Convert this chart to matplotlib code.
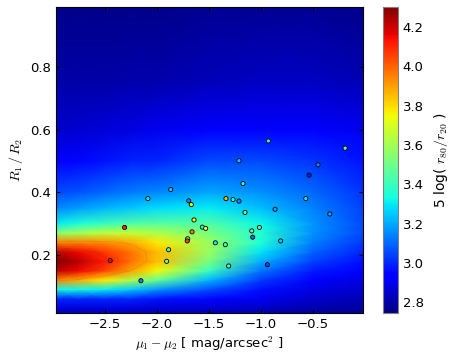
import numpy as np
import matplotlib
matplotlib.use("Agg")
import matplotlib.pyplot as plt

plt.rcParams["mathtext.fontset"] = "cm"
plt.rcParams["font.family"] = "DejaVu Sans"

# background model surface (rows = y nodes, cols = x nodes)
grid_x = [-2.97, -2.75, -2.5, -2.25, -2.0, -1.5, -1.0, -0.5, -0.02]
grid_y = [0.0, 0.03, 0.06, 0.09, 0.12, 0.15, 0.18, 0.21, 0.24, 0.27, 0.30,
          0.35, 0.40, 0.50, 0.60, 0.75, 1.0]
grid_z = [
    [2.78, 2.78, 2.78, 2.78, 2.78, 2.78, 2.78, 2.77, 2.76],
    [2.87, 2.87, 2.87, 2.87, 2.86, 2.86, 2.84, 2.81, 2.79],
    [3.00, 3.00, 3.00, 3.00, 2.97, 2.95, 2.90, 2.85, 2.82],
    [3.32, 3.32, 3.30, 3.25, 3.17, 3.06, 2.96, 2.88, 2.85],
    [3.95, 3.88, 3.78, 3.62, 3.48, 3.22, 3.03, 2.93, 2.88],
    [4.22, 4.15, 4.05, 3.90, 3.75, 3.40, 3.12, 2.98, 2.92],
    [4.30, 4.22, 4.12, 3.98, 3.85, 3.52, 3.21, 3.04, 2.96],
    [4.22, 4.15, 4.07, 3.97, 3.85, 3.58, 3.29, 3.09, 3.00],
    [3.95, 3.95, 3.93, 3.88, 3.78, 3.58, 3.35, 3.13, 3.03],
    [3.55, 3.60, 3.65, 3.66, 3.62, 3.52, 3.36, 3.16, 3.05],
    [3.30, 3.35, 3.40, 3.44, 3.46, 3.44, 3.32, 3.17, 3.05],
    [3.15, 3.18, 3.22, 3.25, 3.28, 3.30, 3.23, 3.14, 3.04],
    [3.05, 3.07, 3.10, 3.13, 3.15, 3.20, 3.16, 3.10, 3.02],
    [2.93, 2.95, 2.97, 2.99, 3.00, 3.05, 3.05, 3.02, 2.97],
    [2.85, 2.86, 2.87, 2.88, 2.90, 2.93, 2.94, 2.93, 2.90],
    [2.80, 2.80, 2.80, 2.81, 2.81, 2.83, 2.84, 2.84, 2.82],
    [2.76, 2.76, 2.76, 2.76, 2.76, 2.77, 2.77, 2.77, 2.76],
]

# galaxies
mu_diff = [-1.868, -2.087, -1.695, -1.670, -1.644, -2.311, -1.564, -1.532, -1.663,
           -1.705, -1.709, -1.439, -1.888, -1.907, -2.449, -2.154, -0.930, -0.192,
           -1.212, -0.452, -0.538, -1.173, -1.337, -1.269, -1.212, -0.570, -1.154,
           -0.865, -0.339, -1.343, -1.089, -1.016, -1.080, -0.811, -1.311, -0.939]
r_ratio = [0.409, 0.380, 0.373, 0.361, 0.312, 0.288, 0.289, 0.285, 0.274,
           0.252, 0.245, 0.239, 0.217, 0.180, 0.182, 0.118, 0.564, 0.541,
           0.501, 0.488, 0.455, 0.428, 0.380, 0.377, 0.372, 0.380, 0.336,
           0.346, 0.331, 0.233, 0.277, 0.288, 0.257, 0.245, 0.165, 0.169]
conc = [3.25, 3.30, 3.15, 3.75, 3.75, 4.10, 3.35, 3.75, 3.95,
        3.55, 4.05, 3.30, 3.45, 3.55, 4.15, 3.15, 3.35, 3.45,
        3.25, 3.15, 3.00, 3.35, 3.85, 3.35, 3.15, 3.30, 3.45,
        3.20, 3.20, 3.45, 3.50, 3.45, 3.10, 3.25, 3.45, 3.05]

vmin, vmax = 2.745, 4.305
cbar_ticks = [2.8, 3.0, 3.2, 3.4, 3.6, 3.8, 4.0, 4.2]

fig = plt.figure(figsize=(4.58, 3.54), dpi=100)
ax = fig.add_axes([0.1223, 0.1158, 0.6703, 0.8658])
cax = fig.add_axes([0.836, 0.1158, 0.0328, 0.8658])

X, Y = np.meshgrid(grid_x, grid_y)
Z = np.array(grid_z)
mesh = ax.pcolormesh(X, Y, Z, cmap="jet", vmin=vmin, vmax=vmax, shading="gouraud")
ax.contour(X, Y, Z, levels=[3.9, 4.1, 4.28], colors="k", alpha=0.08, linewidths=0.6)

ax.scatter(mu_diff, r_ratio, c=conc, cmap="jet", vmin=vmin, vmax=vmax,
           s=9, edgecolors="k", linewidths=0.6, zorder=3)

ax.set_xlim(-2.97, -0.02)
ax.set_ylim(0.015, 0.993)
ax.set_xticks([-2.5, -2.0, -1.5, -1.0, -0.5])
ax.set_yticks([0.2, 0.4, 0.6, 0.8])
ax.tick_params(direction="in", top=True, right=True, labelsize=9.5, length=3)
ax.set_xlabel(r"$\mu_1 - \mu_2$ [ mag/arcsec$^2$ ]", fontsize=9.5, labelpad=3)
ax.set_ylabel(r"$R_1\,/\,R_2$", fontsize=10, labelpad=4)

cb = fig.colorbar(mesh, cax=cax, ticks=cbar_ticks)
cb.ax.tick_params(labelsize=9.5, length=0)
cb.outline.set_edgecolor("0.5")
cb.set_label(r"5 log( $r_{80}/r_{20}$ )", fontsize=10, labelpad=6)

fig.savefig("out.png", dpi=100)
